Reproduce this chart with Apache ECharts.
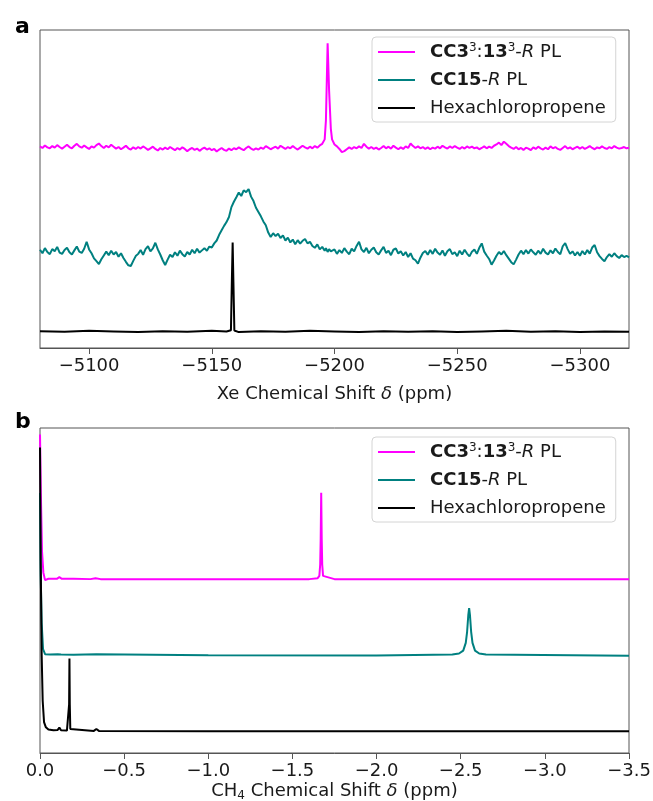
<!DOCTYPE html>
<html>
<head>
<meta charset="utf-8">
<script src="https://cdn.jsdelivr.net/npm/echarts@6/dist/echarts.min.js"></script>
<style>
html,body{margin:0;padding:0;background:#fff;}
#chart{width:653px;height:801px;}
</style>
</head>
<body>
<div id="chart"></div>
<script>
// ---------- Panel a: 129Xe spectra (x = chemical shift, ppm) ----------
var xeShift = [
-5080,-5081,-5082,-5083,-5084,-5085,-5086,-5087,-5088,-5089,
-5090,-5091,-5092,-5093,-5094,-5095,-5096,-5097,-5098,-5099,
-5100,-5101,-5102,-5103,-5104,-5105,-5106,-5107,-5108,-5109,
-5110,-5111,-5112,-5113,-5114,-5115,-5116,-5117,-5118,-5119,
-5120,-5121,-5122,-5123,-5124,-5125,-5126,-5127,-5128,-5129,
-5130,-5131,-5132,-5133,-5134,-5135,-5136,-5137,-5138,-5139,
-5140,-5141,-5142,-5143,-5144,-5145,-5146,-5147,-5148,-5149,
-5150,-5151,-5152,-5153,-5154,-5155,-5156,-5157,-5158,-5159,
-5160,-5161,-5162,-5163,-5164,-5165,-5166,-5167,-5168,-5169,
-5170,-5171,-5172,-5173,-5174,-5175,-5176,-5177,-5178,-5179,
-5180,-5181,-5182,-5183,-5184,-5185,-5186,-5187,-5188,-5189,
-5190,-5191,-5192,-5193,-5194,-5195,-5196,
-5196.5,-5197.2,-5197.8,-5198.5,
-5199,-5200,-5201,-5202,-5203,-5204,-5205,-5206,-5207,-5208,
-5209,-5210,-5211,-5212,-5213,-5214,-5215,-5216,-5217,-5218,
-5219,-5220,-5221,-5222,-5223,-5224,-5225,-5226,-5227,-5228,
-5229,-5230,-5231,-5232,-5233,-5234,-5235,-5236,-5237,-5238,
-5239,-5240,-5241,-5242,-5243,-5244,-5245,-5246,-5247,-5248,
-5249,-5250,-5251,-5252,-5253,-5254,-5255,-5256,-5257,-5258,
-5259,-5260,-5261,-5262,-5263,-5264,-5265,-5266,-5267,-5268,
-5269,-5270,-5271,-5272,-5273,-5274,-5275,-5276,-5277,-5278,
-5279,-5280,-5281,-5282,-5283,-5284,-5285,-5286,-5287,-5288,
-5289,-5290,-5291,-5292,-5293,-5294,-5295,-5296,-5297,-5298,
-5299,-5300,-5301,-5302,-5303,-5304,-5305,-5306,-5307,-5308,
-5309,-5310,-5311,-5312,-5313,-5314,-5315,-5316,-5317,-5318,
-5319,-5320];

var magentaXe = [
63.4,62.9,63.7,63.1,62.8,63.5,63.0,63.8,63.2,62.7,
63.3,63.9,63.2,62.8,63.6,64.2,63.4,63.0,63.7,63.1,
62.6,63.4,63.0,63.8,64.3,63.5,62.9,63.6,63.1,63.9,
63.3,62.7,63.2,62.5,63.0,63.6,62.8,62.4,63.1,62.6,
63.2,62.7,63.4,62.9,62.3,62.8,63.3,62.6,62.1,62.9,
62.4,63.0,62.5,63.2,62.7,62.2,62.9,62.4,63.1,62.6,
61.9,62.5,62.9,62.3,62.7,62.0,62.6,63.0,62.4,62.8,
62.2,62.6,61.8,62.4,62.9,62.3,62.0,62.7,62.2,62.8,
62.5,63.1,62.6,62.2,62.9,63.4,62.7,62.3,62.8,62.4,
63.0,62.6,63.5,63.0,62.5,62.9,63.3,62.7,63.6,63.1,
62.6,63.2,62.8,63.5,62.9,62.4,63.0,63.6,63.1,62.7,
63.3,62.8,63.5,63.0,63.7,64.2,65.6,
71.5,95.8,81.0,69.0,
65.6,64.0,63.4,62.6,61.6,61.9,62.5,63.1,62.6,63.2,
62.8,63.4,62.9,64.2,63.3,62.7,63.2,62.6,63.0,62.4,
62.9,63.5,62.8,63.3,62.7,63.6,63.0,62.5,63.1,62.6,
63.4,62.9,64.3,63.5,62.9,63.4,62.8,63.2,62.6,63.1,
62.5,63.0,62.7,63.3,62.8,63.6,63.1,62.7,63.4,62.9,
63.5,63.0,62.6,63.2,62.7,63.4,62.9,63.3,62.8,63.1,
62.5,62.9,63.4,62.8,63.3,62.9,63.6,64.0,64.6,63.8,
64.9,64.2,63.5,63.0,62.6,63.2,62.5,62.9,62.3,63.0,
62.7,62.2,63.1,62.6,63.3,62.8,62.4,63.0,62.5,63.4,
62.8,63.2,62.6,62.3,62.9,63.5,62.7,63.1,62.5,62.9,
63.3,62.7,63.2,62.6,63.0,63.5,62.9,62.5,63.1,62.8,
63.4,62.9,62.6,63.2,62.8,63.5,63.0,62.7,62.9,63.2,
62.8,63.0];

var tealXe = [
30.9,29.8,31.4,30.2,29.5,31.1,30.4,31.8,30.0,29.6,
30.8,31.5,30.1,29.4,30.7,31.9,30.3,29.9,31.2,33.4,
31.0,29.8,28.2,27.3,26.4,27.9,29.1,30.3,29.2,30.6,
29.4,30.2,28.7,29.8,28.3,27.1,26.0,25.8,27.4,28.9,
29.6,30.8,29.3,31.1,32.0,30.4,31.3,33.1,31.0,29.4,
27.6,26.1,27.8,29.3,28.6,30.1,29.0,30.6,29.5,28.8,
30.2,29.4,30.9,29.8,31.2,30.0,30.7,31.4,30.6,31.9,
31.6,32.9,33.8,35.6,37.0,38.4,39.6,41.2,44.3,46.0,
47.4,48.9,47.8,49.6,49.0,50.0,47.6,46.2,44.1,42.8,
41.4,39.8,38.6,36.3,34.9,36.1,35.2,35.9,34.6,35.4,
33.8,34.7,33.2,34.1,32.6,33.9,32.8,33.7,34.3,32.9,
33.4,32.1,31.5,32.6,31.0,31.8,30.6,
31.4,30.2,31.1,30.4,
30.1,31.0,29.6,30.8,29.9,31.4,30.3,29.5,31.2,30.4,
32.1,33.4,31.0,30.2,31.5,29.8,30.9,31.6,30.1,29.4,
30.7,31.8,29.9,30.6,29.2,30.9,31.3,29.7,30.4,29.1,
30.2,28.6,29.8,28.1,27.6,26.5,28.4,29.9,30.5,29.3,
30.8,29.6,31.2,30.0,29.3,30.7,29.0,30.4,31.1,29.5,
30.1,28.9,30.6,29.4,30.9,29.7,28.8,30.3,31.0,29.6,
31.5,32.9,30.3,29.1,28.0,26.2,27.5,29.0,30.2,29.4,
30.5,29.2,28.1,27.0,26.3,27.8,29.4,30.6,29.5,30.8,
29.7,31.0,30.1,29.3,30.6,29.6,31.2,30.0,29.4,30.7,
29.8,31.3,30.2,29.5,32.0,33.0,31.1,29.6,30.4,29.1,
30.2,29.0,30.5,29.4,30.8,29.7,31.6,32.4,30.1,28.9,
28.0,27.3,28.6,29.5,28.7,29.8,28.9,28.3,29.2,28.6,
29.0,28.5];

var blackXe = [
[-5080,5.3],[-5090,5.1],[-5100,5.4],[-5110,5.2],[-5120,5.0],[-5130,5.3],[-5140,5.1],
[-5150,5.4],[-5156,5.2],[-5157.8,5.6],[-5158.2,22],[-5158.5,33.2],[-5158.8,21],
[-5159.2,5.5],[-5161,5.0],[-5170,5.3],[-5180,5.1],[-5190,5.4],[-5200,5.2],[-5210,5.0],
[-5220,5.3],[-5230,5.1],[-5240,5.3],[-5250,5.0],[-5260,5.2],[-5270,5.4],[-5280,5.1],
[-5290,5.3],[-5300,5.0],[-5310,5.2],[-5320,5.1]];

var xeTicks = [-5100,-5150,-5200,-5250,-5300];

// ---------- Panel b: CH4 spectra ----------
var magentaCH4 = [
[0,98],[-0.005,80],[-0.012,62],[-0.02,55.5],[-0.03,53.2],[-0.05,53.6],[-0.1,53.6],
[-0.115,54.1],[-0.13,53.6],[-0.2,53.6],[-0.3,53.5],[-0.33,53.8],[-0.36,53.5],
[-1.0,53.5],[-1.6,53.5],[-1.65,53.8],[-1.66,54.5],[-1.665,58],[-1.668,66],
[-1.671,80.1],[-1.674,66],[-1.677,58],[-1.682,54.5],[-1.69,53.9],[-1.75,53.5],[-3.5,53.5]];

var tealCH4 = [
[0,80],[-0.004,55],[-0.01,40],[-0.018,32],[-0.03,30.4],[-0.06,30.3],[-0.105,30.4],
[-0.115,30.9],[-0.125,30.3],[-0.2,30.2],[-0.335,30.4],[-1.0,30.1],[-2.0,30.0],
[-2.45,30.3],[-2.49,30.6],[-2.515,31.5],[-2.53,33.9],[-2.538,37.3],[-2.545,42.4],
[-2.55,44.6],[-2.555,42.4],[-2.562,37.3],[-2.57,33.9],[-2.585,31.5],[-2.61,30.6],
[-2.65,30.3],[-3.5,29.9]];

var blackCH4 = [
[0,94],[-0.004,60],[-0.01,30],[-0.016,16],[-0.024,9.5],[-0.035,7.9],[-0.05,7.2],
[-0.08,7.0],[-0.105,7.1],[-0.115,7.8],[-0.125,7.0],[-0.16,6.9],[-0.17,7.4],
[-0.173,15],[-0.175,29.1],[-0.177,15],[-0.18,7.4],[-0.19,6.9],[-0.32,6.8],
[-0.335,7.4],[-0.35,6.8],[-1.0,6.7],[-3.5,6.7]];

var ch4Ticks = [0,-0.5,-1.0,-1.5,-2.0,-2.5,-3.0,-3.5];

var seriesNames = ['CC3:13-R PL','CC15-R PL','Hexachloropropene'];
var seriesColors = ['#ff00ff','#008080','#000000'];
var panelLabels = ['a','b'];

function zip(xs, ys){ var out=[]; for(var i=0;i<xs.length && i<ys.length;i++){ out.push([xs[i], ys[i]]); } return out; }

var FONT = 'DejaVu Sans';
var TXT = '#1a1a1a';
var SPINE = '#555';

var legendRich = {
  b:{fontFamily:FONT,fontSize:18,fontWeight:'bold',color:TXT,lineHeight:20},
  n:{fontFamily:FONT,fontSize:18,color:TXT,lineHeight:20},
  i:{fontFamily:FONT,fontSize:18,fontStyle:'italic',color:TXT,lineHeight:20},
  sup:{fontFamily:FONT,fontSize:12,color:TXT,lineHeight:12,verticalAlign:'top'}
};
function legendFormatter(name){
  if(name===seriesNames[0]) return '{b|CC3}{sup|3}{n|:}{b|13}{sup|3}{n|-}{i|R}{n| PL}';
  if(name===seriesNames[1]) return '{b|CC15}{n|-}{i|R}{n| PL}';
  return '{n|'+name+'}';
}
function makeLegend(top){
  return {
    orient:'vertical', left:372, top:top,
    padding:[5,10,5,6], itemGap:10, itemWidth:37, itemHeight:2,
    icon:'rect',
    borderColor:'#d4d4d4', borderWidth:1, borderRadius:4,
    backgroundColor:'rgba(255,255,255,0.85)',
    data:seriesNames,
    formatter:legendFormatter,
    textStyle:{fontFamily:FONT,fontSize:18,color:TXT,padding:[0,0,0,10],rich:legendRich}
  };
}
var nameRich = {
  t:{fontFamily:FONT,fontSize:18,color:TXT,lineHeight:22},
  i:{fontFamily:FONT,fontSize:18,fontStyle:'italic',color:TXT,lineHeight:22},
  sub:{fontFamily:FONT,fontSize:12,color:TXT,lineHeight:12,verticalAlign:'bottom'}
};
function minusFmt(v, digits){
  if(v===0) return digits ? (0).toFixed(digits) : '0';
  var s = digits ? Math.abs(v).toFixed(digits) : String(Math.abs(v));
  return (v<0?'\u2212':'') + s;
}
function makeXAxis(gridIndex, min, max, ticks, digits, name, gap){
  return {
    type:'value', gridIndex:gridIndex, min:min, max:max, inverse:true,
    axisLine:{show:true,lineStyle:{color:SPINE,width:1}},
    axisTick:{show:true,length:6,lineStyle:{color:SPINE,width:1},customValues:ticks},
    axisLabel:{show:true,margin:9,fontFamily:FONT,fontSize:18,color:TXT,customValues:ticks,
      formatter:function(v){return minusFmt(v,digits);}},
    splitLine:{show:false},
    name:name, nameLocation:'middle', nameGap:gap,
    nameTextStyle:{fontFamily:FONT,fontSize:18,color:TXT,rich:nameRich}
  };
}
function makeYAxis(gridIndex){
  return {type:'value', gridIndex:gridIndex, min:0, max:100,
    axisLine:{show:false}, axisTick:{show:false}, axisLabel:{show:false}, splitLine:{show:false}};
}
function lineSeries(idx, xi, data){
  return {
    type:'line', name:seriesNames[idx], xAxisIndex:xi, yAxisIndex:xi,
    data:data, showSymbol:false, symbol:'none', color:seriesColors[idx],
    lineStyle:{color:seriesColors[idx],width:2}, animation:false, silent:true
  };
}

var option = {
  backgroundColor:'#fff',
  animation:false,
  title:[
    {text:panelLabels[0], left:10, top:11, textStyle:{fontFamily:FONT,fontSize:22,fontWeight:'bold',color:'#000'}},
    {text:panelLabels[1], left:10, top:406, textStyle:{fontFamily:FONT,fontSize:22,fontWeight:'bold',color:'#000'}}
  ],
  legend:[makeLegend(37), makeLegend(437)],
  grid:[
    {left:40, top:30, width:589, height:318, show:true, borderColor:SPINE, borderWidth:1,
     backgroundColor:'transparent', containLabel:false, outerBoundsMode:'none'},
    {left:40, top:428, width:589, height:325, show:true, borderColor:SPINE, borderWidth:1,
     backgroundColor:'transparent', containLabel:false, outerBoundsMode:'none'}
  ],
  xAxis:[
    makeXAxis(0,-5320,-5080,xeTicks,0,'{t|Xe Chemical Shift }{i|\u03b4}{t| (ppm)}',35),
    makeXAxis(1,-3.5,0,ch4Ticks,1,'{t|CH}{sub|4}{t| Chemical Shift }{i|\u03b4}{t| (ppm)}',27)
  ],
  yAxis:[makeYAxis(0), makeYAxis(1)],
  series:[
    lineSeries(0,0,zip(xeShift,magentaXe)),
    lineSeries(1,0,zip(xeShift,tealXe)),
    lineSeries(2,0,blackXe),
    lineSeries(0,1,magentaCH4),
    lineSeries(1,1,tealCH4),
    lineSeries(2,1,blackCH4)
  ]
};
var chart = echarts.init(document.getElementById('chart'), null, {renderer:'canvas'});
chart.setOption(option);
</script>
</body>
</html>
